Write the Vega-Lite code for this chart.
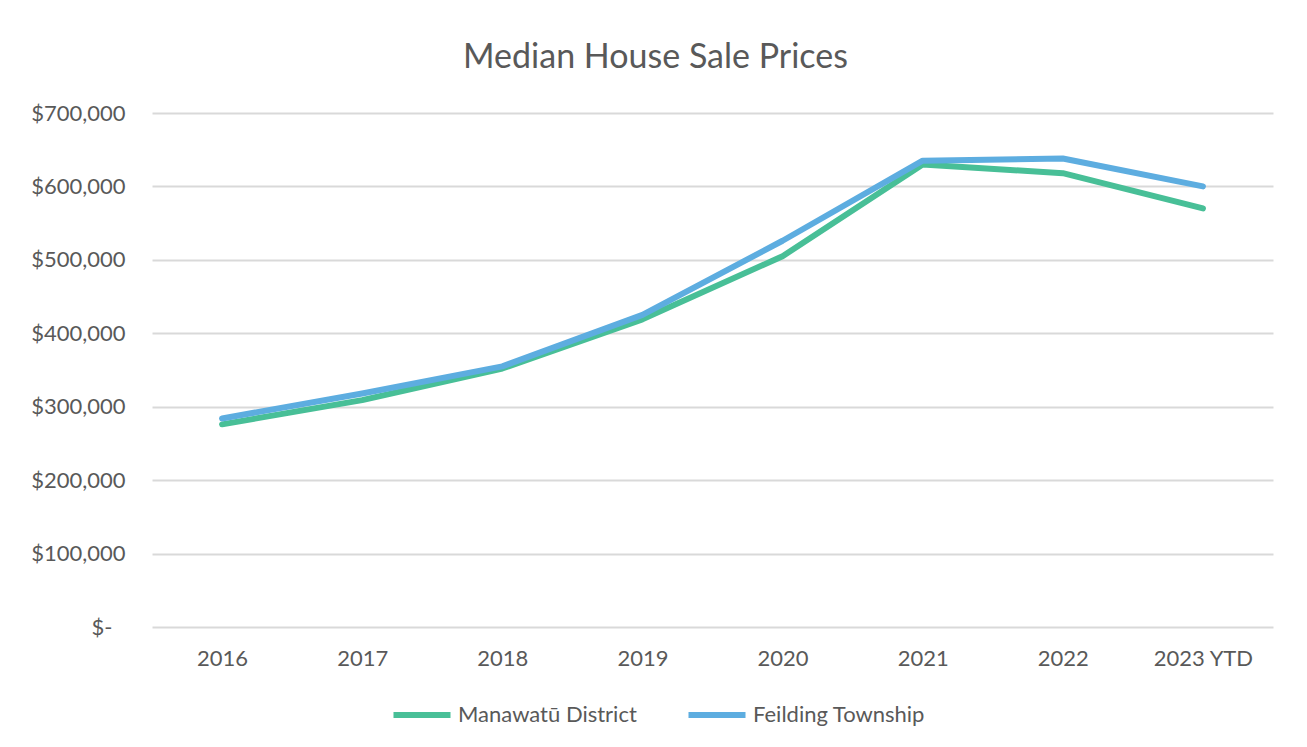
{
  "$schema": "https://vega.github.io/schema/vega-lite/v6.json",
  "autosize": "none",
  "width": 1121,
  "height": 514,
  "padding": {"left": 152, "top": 113, "right": 34, "bottom": 120},
  "background": "white",
  "title": {"text": "Median House Sale Prices", "fontSize": 34, "font": "Lato", "fontWeight": "normal", "color": "#595959", "anchor": "middle", "offset": 27, "dx": -57},
  "data": {"values": [
    {"year": "2016", "series": "Manawatū District", "price": 276000},
    {"year": "2017", "series": "Manawatū District", "price": 309000},
    {"year": "2018", "series": "Manawatū District", "price": 352000},
    {"year": "2019", "series": "Manawatū District", "price": 419000},
    {"year": "2020", "series": "Manawatū District", "price": 505000},
    {"year": "2021", "series": "Manawatū District", "price": 630000},
    {"year": "2022", "series": "Manawatū District", "price": 618000},
    {"year": "2023 YTD", "series": "Manawatū District", "price": 570000},
    {"year": "2016", "series": "Feilding Township", "price": 284000},
    {"year": "2017", "series": "Feilding Township", "price": 318000},
    {"year": "2018", "series": "Feilding Township", "price": 355000},
    {"year": "2019", "series": "Feilding Township", "price": 425000},
    {"year": "2020", "series": "Feilding Township", "price": 526000},
    {"year": "2021", "series": "Feilding Township", "price": 635000},
    {"year": "2022", "series": "Feilding Township", "price": 638000},
    {"year": "2023 YTD", "series": "Feilding Township", "price": 600000}
  ]},
  "mark": {"type": "line", "strokeWidth": 6, "strokeCap": "round", "strokeJoin": "round"},
  "encoding": {
    "x": {"field": "year", "type": "ordinal", "sort": null, "title": null,
      "scale": {"type": "point", "padding": 0.5},
      "axis": {"domain": false, "ticks": false, "grid": false, "labelAngle": 0, "labelPadding": 21, "labelFontSize": 22, "labelFont": "Lato", "labelColor": "#595959"}},
    "y": {"field": "price", "type": "quantitative", "title": null,
      "scale": {"domain": [0, 700000], "nice": false},
      "axis": {"values": [0, 100000, 200000, 300000, 400000, 500000, 600000, 700000],
        "labelExpr": "datum.value == 0 ? '$-' : '$' + format(datum.value, ',')",
        "domain": false, "ticks": false,
        "labelPadding": {"condition": {"test": "datum.value == 0", "value": 40}, "value": 27},
        "labelFontSize": 22, "labelFont": "Lato", "labelColor": "#595959",
        "grid": true, "gridColor": "#D9D9D9", "gridWidth": 2}},
    "color": {"field": "series", "type": "nominal", "sort": null, "title": null,
      "scale": {"domain": ["Manawatū District", "Feilding Township"], "range": ["#48BF97", "#5DADE0"]},
      "legend": {"orient": "none", "legendX": 238, "legendY": 570, "direction": "horizontal", "symbolType": "stroke", "symbolSize": 3250, "symbolStrokeWidth": 6,
        "labelFontSize": 22, "labelFont": "Lato", "labelColor": "#595959", "columnPadding": 39, "labelOffset": 4, "labelLimit": 400}}
  },
  "config": {"view": {"stroke": null}}
}
